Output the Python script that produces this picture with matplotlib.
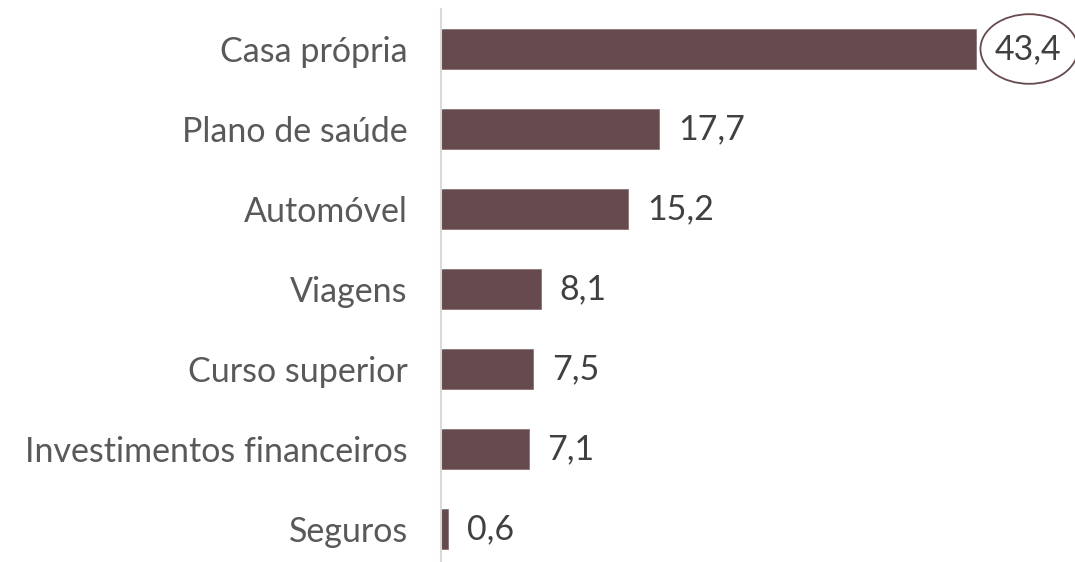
import matplotlib
matplotlib.use("Agg")
import matplotlib.pyplot as plt
from matplotlib.patches import Ellipse

categorias = ["Casa própria", "Plano de saúde", "Automóvel", "Viagens",
              "Curso superior", "Investimentos financeiros", "Seguros"]
valores = [43.4, 17.7, 15.2, 8.1, 7.5, 7.1, 0.6]
rotulos = ["43,4", "17,7", "15,2", "8,1", "7,5", "7,1", "0,6"]

plt.rcParams['font.family'] = ['Lato', 'DejaVu Sans']

fig = plt.figure(figsize=(10.75, 5.62), dpi=100)
ax = fig.add_axes([441/1075, -7/562, 616/1075, 560/562])

pos = list(range(len(categorias)))
ax.barh(pos, valores, height=0.5, color='#664a4e', edgecolor='#8a7275', linewidth=0.6)
ax.set_xlim(0, 616/12.33)
ax.set_ylim(len(categorias) - 0.5, -0.5)

ax.set_yticks(pos)
ax.set_yticklabels(categorias, fontsize=24.5, color='#595959')
ax.tick_params(axis='y', length=0, pad=24)
ax.set_xticks([])

for s in ['top', 'right', 'bottom']:
    ax.spines[s].set_visible(False)
ax.spines['left'].set_color('#d9d9d9')
ax.spines['left'].set_linewidth(1.5)

for i, (v, r) in enumerate(zip(valores, rotulos)):
    ax.text(v + 1.5, i, r, va='center', ha='left', fontsize=24.5, color='#404040')

# destaque na primeira barra
ax.add_patch(Ellipse((valores[0] + 4.3, 0), 7.9, 0.87, fill=False,
                     edgecolor='#664a4e', linewidth=1.3, clip_on=False))

fig.savefig("out.png", dpi=100)
